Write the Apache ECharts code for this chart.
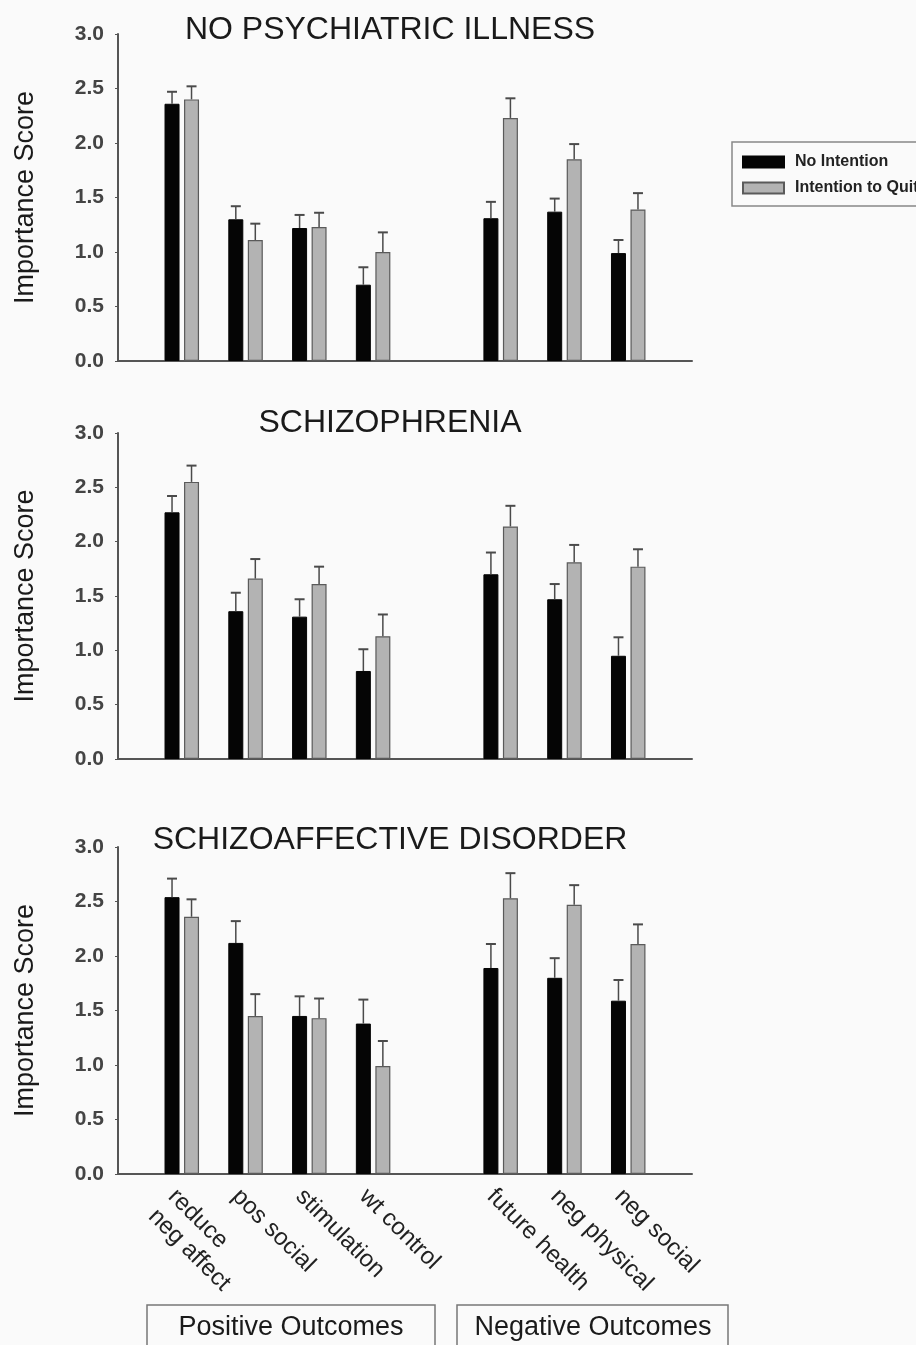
<!DOCTYPE html>
<html>
<head>
<meta charset="utf-8">
<script src="https://cdn.jsdelivr.net/npm/echarts@6/dist/echarts.min.js"></script>
<style>
  html, body { margin: 0; padding: 0; background: #fafafa; }
  #main { width: 916px; height: 1345px; }
</style>
</head>
<body>
<div id="main"></div>
<script>
// outcome categories, a blank slot goes between positive and negative ones
var categories = ['reduce\nneg affect', 'pos social', 'stimulation', 'wt control', 'future health', 'neg physical', 'neg social'];
var panelTitles = ['NO PSYCHIATRIC ILLNESS', 'SCHIZOPHRENIA', 'SCHIZOAFFECTIVE DISORDER'];
var yMax = 3;
var yStep = 0.5;

// mean score and top of the error bar (mean + SE), one pair per panel and group
var noneNoIntent = [2.36, 1.30, 1.22, 0.70, 1.31, 1.37, 0.99];
var noneNoIntentTop = [2.47, 1.42, 1.34, 0.86, 1.46, 1.49, 1.11];
var noneQuit = [2.40, 1.11, 1.23, 1.00, 2.23, 1.85, 1.39];
var noneQuitTop = [2.52, 1.26, 1.36, 1.18, 2.41, 1.99, 1.54];

var schizNoIntent = [2.27, 1.36, 1.31, 0.81, 1.70, 1.47, 0.95];
var schizNoIntentTop = [2.42, 1.53, 1.47, 1.01, 1.90, 1.61, 1.12];
var schizQuit = [2.55, 1.66, 1.61, 1.13, 2.14, 1.81, 1.77];
var schizQuitTop = [2.70, 1.84, 1.77, 1.33, 2.33, 1.97, 1.93];

var affNoIntent = [2.54, 2.12, 1.45, 1.38, 1.89, 1.80, 1.59];
var affNoIntentTop = [2.71, 2.32, 1.63, 1.60, 2.11, 1.98, 1.78];
var affQuit = [2.36, 1.45, 1.43, 0.99, 2.53, 2.47, 2.11];
var affQuitTop = [2.52, 1.65, 1.61, 1.22, 2.76, 2.65, 2.29];

var panels = [
  { noIntent: noneNoIntent, noIntentTop: noneNoIntentTop, quit: noneQuit, quitTop: noneQuitTop },
  { noIntent: schizNoIntent, noIntentTop: schizNoIntentTop, quit: schizQuit, quitTop: schizQuitTop },
  { noIntent: affNoIntent, noIntentTop: affNoIntentTop, quit: affQuit, quitTop: affQuitTop }
];

// put the 7 values on the 10 axis slots (empty ends + gap)
function toSlots(v) {
  return [null, v[0], v[1], v[2], v[3], null, v[4], v[5], v[6], null];
}
var slotLabels = toSlots(categories).map(function (c) { return c || ''; });

var barW = 15;
var half = 9.75; // centre of each bar from the slot centre

function errorData(mean, top) {
  var m = toSlots(mean), t = toSlots(top), out = [];
  for (var i = 0; i < m.length; i++) {
    if (m[i] != null) out.push([i, m[i], t[i]]);
  }
  return out;
}

function errorBars(offset) {
  return function (params, api) {
    var base = api.coord([api.value(0), api.value(1)]);
    var top = api.coord([api.value(0), api.value(2)]);
    var x = base[0] + offset;
    return {
      type: 'group',
      children: [
        { type: 'line', shape: { x1: x, y1: base[1], x2: x, y2: top[1] }, style: { stroke: '#4a4a4a', lineWidth: 1.5 } },
        { type: 'line', shape: { x1: x - 5, y1: top[1], x2: x + 5, y2: top[1] }, style: { stroke: '#4a4a4a', lineWidth: 2 } }
      ]
    };
  };
}

var grids = [
  { left: 118, top: 34, width: 574, height: 327 },
  { left: 118, top: 433, width: 574, height: 326 },
  { left: 118, top: 847, width: 574, height: 327 }
];
var titleTops = [9, 402, 819];

var xAxes = [], yAxes = [], series = [], titles = [];
panels.forEach(function (p, k) {
  titles.push({
    text: panelTitles[k], left: 385, top: titleTops[k], textAlign: 'center',
    textStyle: { fontFamily: 'Liberation Sans', fontSize: 32, fontWeight: 'normal', color: '#1a1a1a' }
  });
  xAxes.push({
    type: 'category', gridIndex: k, data: slotLabels, boundaryGap: false,
    axisLine: { lineStyle: { color: '#555', width: 2 } },
    axisTick: { show: false },
    axisLabel: {
      show: k === 2, interval: 0, rotate: -45, margin: 9,
      align: 'left', verticalAlign: 'top',
      fontFamily: 'Liberation Sans', fontSize: 24, color: '#222', lineHeight: 28
    },
    splitLine: { show: false }
  });
  yAxes.push({
    type: 'value', gridIndex: k, min: 0, max: yMax, interval: yStep,
    name: 'Importance Score', nameLocation: 'middle', nameGap: 79,
    nameTextStyle: { fontFamily: 'Liberation Sans', fontSize: 27, color: '#1a1a1a' },
    axisLine: { show: true, lineStyle: { color: '#555', width: 2 } },
    axisTick: { show: true, length: 3, lineStyle: { color: '#555' } },
    axisLabel: {
      margin: 14, fontFamily: 'Liberation Sans', fontSize: 21, fontWeight: 'bold', color: '#444',
      formatter: function (v) { return v.toFixed(1); }
    },
    splitLine: { show: false }
  });
  series.push({
    name: 'No Intention', type: 'bar', xAxisIndex: k, yAxisIndex: k,
    data: toSlots(p.noIntent), barWidth: barW, barGap: '30%',
    itemStyle: { color: '#050505', borderColor: '#050505', borderWidth: 1 }
  });
  series.push({
    name: 'Intention to Quit', type: 'bar', xAxisIndex: k, yAxisIndex: k,
    data: toSlots(p.quit), barWidth: barW, barGap: '30%',
    itemStyle: { color: '#b3b3b3', borderColor: '#5a5a5a', borderWidth: 1.2 }
  });
  series.push({
    name: 'err1', type: 'custom', xAxisIndex: k, yAxisIndex: k, z: 3,
    renderItem: errorBars(-half), encode: { x: 0, y: [1, 2] },
    data: errorData(p.noIntent, p.noIntentTop)
  });
  series.push({
    name: 'err2', type: 'custom', xAxisIndex: k, yAxisIndex: k, z: 3,
    renderItem: errorBars(half), encode: { x: 0, y: [1, 2] },
    data: errorData(p.quit, p.quitTop)
  });
});

var chart = echarts.init(document.getElementById('main'));
chart.setOption({
  animation: false,
  backgroundColor: '#fafafa',
  title: titles,
  grid: grids,
  xAxis: xAxes,
  yAxis: yAxes,
  legend: {
    data: ['No Intention', 'Intention to Quit'],
    orient: 'vertical', left: 732, top: 142,
    itemWidth: 41, itemHeight: 11, itemGap: 10,
    padding: [12, 60, 10, 10],
    borderColor: '#888', borderWidth: 1.5,
    icon: 'rect',
    textStyle: { fontFamily: 'Liberation Sans', fontSize: 16, fontWeight: 'bold', color: '#222', padding: [0, 0, 0, 6] }
  },
  graphic: [
    { type: 'rect', shape: { x: 147, y: 1305, width: 288, height: 60 }, style: { fill: 'none', stroke: '#777', lineWidth: 1.5 } },
    { type: 'text', x: 291, y: 1328, style: { text: 'Positive Outcomes', align: 'center', verticalAlign: 'middle', font: '27px "Liberation Sans"', fill: '#1a1a1a' } },
    { type: 'rect', shape: { x: 457, y: 1305, width: 271, height: 60 }, style: { fill: 'none', stroke: '#777', lineWidth: 1.5 } },
    { type: 'text', x: 593, y: 1328, style: { text: 'Negative Outcomes', align: 'center', verticalAlign: 'middle', font: '27px "Liberation Sans"', fill: '#1a1a1a' } }
  ],
  series: series
});
</script>
</body>
</html>
